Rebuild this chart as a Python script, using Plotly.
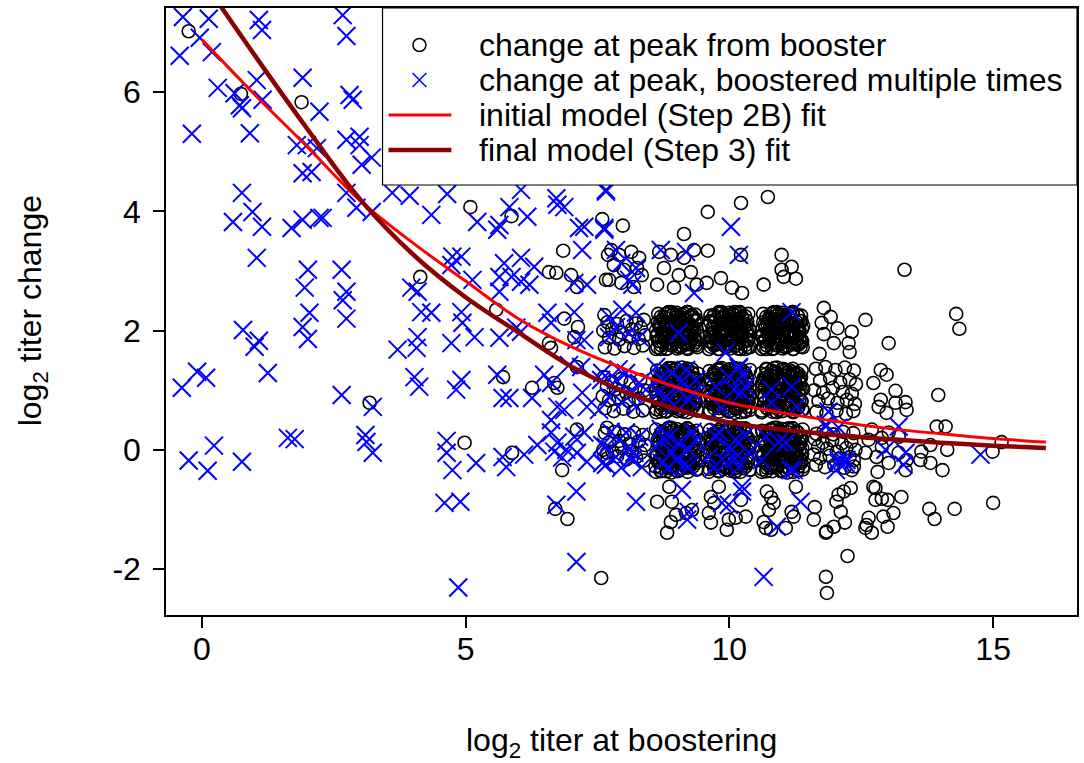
import plotly.graph_objects as go

# ---------------- data ----------------
x_ticks = [0, 5, 10, 15]
y_ticks = [-2, 0, 2, 4, 6]

legend_labels = [
    "change at peak from booster",
    "change at peak, boostered multiple times",
    "initial model (Step 2B) fit",
    "final model (Step 3) fit",
]

# single booster: sparse points
booster_sparse = [
    (-0.25, 7.02), (0.74, 5.97), (1.89, 5.83), (3.18, 0.79),
    (5.09, 4.07), (5.87, 3.92), (7.59, 3.87), (6.85, 3.34), (7.70, 3.27), (4.14, 2.90),
    (6.58, 2.98), (6.72, 2.97), (7.00, 2.93), (7.11, 2.73), (7.66, 2.85), (5.58, 2.35),
    (6.87, 2.20), (7.13, 2.06), (7.06, 1.89), (6.58, 1.79), (6.62, 1.71), (5.71, 1.22),
    (6.26, 1.04), (6.68, 1.12), (6.74, 1.04), (7.11, 1.39), (7.63, 2.26),
    (4.98, 0.12), (5.88, -0.05), (7.11, 0.34), (7.68, 0.37), (7.68, -0.05), (6.83, -0.34),
    (6.70, -0.99), (6.93, -1.16), (7.57, -2.15),
    (10.73, 4.24), (10.22, 4.14), (9.59, 3.99), (7.98, 3.76), (9.14, 3.62), (9.59, 3.34),
    (10.22, 3.27), (10.99, 3.27), (10.99, 3.02), (11.18, 3.07), (11.03, 2.90), (10.65, 2.77),
    (9.84, 2.88), (9.57, 2.80), (10.05, 2.72), (10.24, 2.63),
    (7.76, 3.35), (7.91, 3.27), (8.14, 3.32), (8.29, 3.22), (7.81, 3.10), (8.00, 3.02),
    (8.25, 3.05), (7.72, 2.85), (7.95, 2.80), (8.19, 2.73), (8.34, 2.93),
    (8.67, 3.32), (8.89, 3.27), (9.14, 3.22), (9.33, 3.35), (8.76, 3.05), (9.04, 2.93),
    (9.27, 2.98), (8.63, 2.77), (8.95, 2.72), (9.38, 2.77),
    (11.26, 2.87), (13.32, 3.02), (14.30, 2.28), (14.36, 2.03), (12.58, 2.18), (11.79, 2.38),
    (11.92, 2.23), (11.75, 2.13), (12.05, 2.04), (11.79, 1.94), (12.32, 1.98), (11.98, 1.79),
    (12.26, 1.79), (11.71, 1.61), (12.28, 1.64), (13.02, 1.79), (12.87, 1.34), (12.98, 1.26),
    (12.73, 1.12), (13.15, 0.99), (12.87, 0.84), (13.34, 0.80), (13.15, 0.79), (12.83, 0.72),
    (13.36, 0.67), (12.98, 0.62), (13.96, 0.92), (13.93, 0.39), (14.10, 0.39),
    (15.16, 0.13), (14.99, -0.03), (14.13, 0.00), (13.81, 0.08), (13.81, -0.22), (14.04, -0.34),
    (13.62, -0.17), (15.00, -0.89), (14.27, -0.99), (13.79, -0.99), (13.89, -1.16),
    (13.26, -0.79), (13.00, -0.84), (12.89, -0.82), (12.77, -0.64), (12.81, -0.37),
    (13.11, -1.06), (12.92, -1.12), (13.00, -1.29), (12.64, -1.14), (12.58, -1.31),
    (12.70, -1.39), (12.19, -1.22), (11.98, -1.29), (11.83, -1.39), (11.60, -1.17),
    (11.62, -0.96), (12.24, -1.78), (11.83, -2.13), (11.85, -2.40), (12.30, -0.64),
    (12.17, -0.70), (12.07, -0.75), (12.03, -0.87), (12.11, -1.04), (11.26, -0.62),
    (11.22, -1.12), (12.79, -0.12), (12.58, -0.05), (13.21, -0.05), (13.02, -0.22),
    (13.34, -0.34), (13.64, -0.03), (13.36, -0.17), (12.32, -0.34), (12.36, -0.17),
    (12.64, 0.17), (12.89, 0.20), (12.70, 0.34), (13.02, 0.29), (13.21, 0.22), (12.89, 0.05),
    (8.63, -0.87), (8.86, -0.62), (8.91, -0.87), (8.99, -1.09), (8.89, -1.21), (8.82, -1.39),
    (9.18, -1.06), (9.29, -1.01), (9.65, -0.79), (9.71, -0.89), (9.61, -1.06), (9.65, -1.22),
    (9.80, -0.62), (9.95, -1.34), (9.99, -1.17), (10.12, -1.14), (10.31, -1.12), (10.22, -0.84),
    (10.71, -0.70), (10.79, -0.80), (10.84, -0.89), (10.75, -1.01), (10.65, -1.21),
    (10.69, -1.31), (10.79, -1.34), (11.07, -1.31), (11.18, -1.04), (11.84, -1.37),
    (12.60, -1.26), (12.73, -0.62), (12.77, -0.84),
]

# single booster: dense clusters (titer 8..12, change 0..2)
booster_t8_x = [7.64, 7.82, 8.01, 8.19, 8.36, 7.72, 7.91, 8.10, 8.28, 8.40, 7.61, 7.78, 7.96, 8.15, 8.32, 7.69, 7.87, 8.05, 8.23, 8.38,
                8.36, 8.18, 7.99, 7.81, 7.64, 8.28, 8.09, 7.90, 7.72, 7.60, 8.39, 8.22, 8.04, 7.85, 7.68, 8.31, 8.13, 7.95, 7.77, 7.62,
                7.64, 7.82, 8.01, 8.19, 8.36, 7.72, 7.91, 8.10, 8.28, 8.40, 7.61, 7.78, 7.96, 8.15, 8.32, 7.69, 7.87, 8.05, 8.23, 8.38]
booster_t8_y = [1.72, 1.70, 1.74, 1.71, 1.75, 1.88, 1.85, 1.90, 1.86, 1.92, 2.00, 2.03, 1.97, 2.02, 2.05, 2.14, 2.11, 2.16, 2.12, 2.18,
                0.66, 0.64, 0.69, 0.65, 0.70, 0.86, 0.82, 0.88, 0.83, 0.90, 1.00, 1.04, 0.96, 1.02, 1.06, 1.17, 1.13, 1.19, 1.14, 1.22,
                0.28, 0.30, 0.26, 0.29, 0.25, 0.12, 0.15, 0.10, 0.14, 0.08, 0.00, -0.03, 0.03, -0.02, -0.05, -0.14, -0.11, -0.16, -0.12, -0.18]

booster_t9_x = [8.64, 8.82, 9.01, 9.19, 9.36, 8.72, 8.91, 9.10, 9.28, 9.40, 8.61, 8.78, 8.96, 9.15, 9.32, 8.69, 8.87, 9.05, 9.23, 9.38,
                8.65, 8.84, 9.03, 9.21, 9.35, 8.75, 9.12, 8.98, 9.30, 8.80,
                8.62, 8.79, 8.95, 9.12, 9.27, 9.39, 8.67, 8.84, 9.02, 9.19, 9.34, 8.60, 8.76, 8.92, 9.08, 9.24, 9.38, 8.69, 8.87, 9.04,
                9.17, 9.31, 8.63, 8.80, 8.98, 9.14, 9.29, 9.40, 8.72, 9.07, 8.89, 9.22, 8.65, 9.33, 9.00, 8.82, 9.15, 9.28, 8.73, 9.10,
                9.38, 9.21, 9.05, 8.88, 8.73, 8.61, 9.33, 9.16, 8.98, 8.81, 8.66, 9.40, 9.24, 9.08, 8.92, 8.76, 8.62, 9.31, 9.13, 8.96,
                8.83, 8.69, 9.37, 9.20, 9.02, 8.86, 8.71, 8.60, 9.28, 8.93, 9.11, 8.78, 9.35, 8.67, 9.00, 9.18, 8.85, 8.72, 9.27, 8.90]
booster_t9_y = [1.72, 1.70, 1.74, 1.71, 1.75, 1.88, 1.85, 1.90, 1.86, 1.92, 2.00, 2.03, 1.97, 2.02, 2.05, 2.14, 2.11, 2.16, 2.12, 2.18,
                2.28, 2.30, 2.26, 2.31, 2.27, 1.80, 1.80, 2.22, 2.22, 2.08,
                0.68, 0.65, 0.70, 0.64, 0.69, 0.66, 0.85, 0.81, 0.88, 0.83, 0.90, 1.02, 1.05, 0.98, 1.04, 1.00, 1.07, 1.18, 1.14, 1.20,
                1.15, 1.21, 1.33, 1.30, 1.36, 1.31, 1.35, 1.28, 0.75, 0.76, 1.25, 1.24, 1.10, 0.78, 1.10, 0.94, 0.95, 1.12, 1.26, 1.38,
                0.32, 0.35, 0.30, 0.36, 0.31, 0.34, 0.15, 0.19, 0.12, 0.17, 0.10, -0.02, -0.05, 0.02, -0.04, 0.00, -0.07, -0.18, -0.14, -0.20,
                -0.15, -0.21, -0.33, -0.30, -0.36, -0.31, -0.35, -0.28, 0.25, 0.24, -0.25, -0.24, -0.10, 0.22, -0.10, 0.06, 0.05, -0.12, -0.26, -0.38]

booster_t10_x = [10.36, 10.18, 9.99, 9.81, 9.64, 10.28, 10.09, 9.90, 9.72, 9.60, 10.39, 10.22, 10.04, 9.85, 9.68, 10.31, 10.13, 9.95, 9.77, 9.62,
                 10.35, 10.16, 9.97, 9.79, 9.65, 10.25, 9.88, 10.02, 9.70, 10.20,
                 9.62, 9.79, 9.95, 10.12, 10.27, 10.39, 9.67, 9.84, 10.02, 10.19, 10.34, 9.60, 9.76, 9.92, 10.08, 10.24, 10.38, 9.69, 9.87, 10.04,
                 10.17, 10.31, 9.63, 9.80, 9.98, 10.14, 10.29, 10.40, 9.72, 10.07, 9.89, 10.22, 9.65, 10.33, 10.00, 9.82, 10.15, 10.28, 9.73, 10.10,
                 9.62, 9.79, 9.95, 10.12, 10.27, 10.39, 9.67, 9.84, 10.02, 10.19, 10.34, 9.60, 9.76, 9.92, 10.08, 10.24, 10.38, 9.69, 9.87, 10.04,
                 10.17, 10.31, 9.63, 9.80, 9.98, 10.14, 10.29, 10.40, 9.72, 10.07, 9.89, 10.22, 9.65, 10.33, 10.00, 9.82, 10.15, 10.28, 9.73, 10.10]
booster_t10_y = [2.28, 2.30, 2.26, 2.29, 2.25, 2.12, 2.15, 2.10, 2.14, 2.08, 2.00, 1.97, 2.03, 1.98, 1.95, 1.86, 1.89, 1.84, 1.88, 1.82,
                 1.72, 1.70, 1.74, 1.69, 1.73, 2.20, 2.20, 1.78, 1.78, 1.92,
                 1.32, 1.35, 1.30, 1.36, 1.31, 1.34, 1.15, 1.19, 1.12, 1.17, 1.10, 0.98, 0.95, 1.02, 0.96, 1.00, 0.93, 0.82, 0.86, 0.80,
                 0.85, 0.79, 0.67, 0.70, 0.64, 0.69, 0.65, 0.72, 1.25, 1.24, 0.75, 0.76, 0.90, 1.22, 0.90, 1.06, 1.05, 0.88, 0.74, 0.62,
                 -0.32, -0.35, -0.30, -0.36, -0.31, -0.34, -0.15, -0.19, -0.12, -0.17, -0.10, 0.02, 0.05, -0.02, 0.04, 0.00, 0.07, 0.18, 0.14, 0.20,
                 0.15, 0.21, 0.33, 0.30, 0.36, 0.31, 0.35, 0.28, -0.25, -0.24, 0.25, 0.24, 0.10, -0.22, 0.10, -0.06, -0.05, 0.12, 0.26, 0.38]

booster_t11_x = [10.64, 10.82, 11.01, 11.19, 11.36, 10.72, 10.91, 11.10, 11.28, 11.40, 10.61, 10.78, 10.96, 11.15, 11.32, 10.69, 10.87, 11.05, 11.23, 11.38,
                 10.65, 10.84, 11.03, 11.21, 11.35, 10.75, 11.12, 10.98, 11.30, 10.80,
                 11.38, 11.21, 11.05, 10.88, 10.73, 10.61, 11.33, 11.16, 10.98, 10.81, 10.66, 11.40, 11.24, 11.08, 10.92, 10.76, 10.62, 11.31, 11.13, 10.96,
                 10.83, 10.69, 11.37, 11.20, 11.02, 10.86, 10.71, 10.60, 11.28, 10.93, 11.11, 10.78, 11.35, 10.67, 11.00, 11.18, 10.85, 10.72, 11.27, 10.90,
                 10.62, 10.79, 10.95, 11.12, 11.27, 11.39, 10.67, 10.84, 11.02, 11.19, 11.34, 10.60, 10.76, 10.92, 11.08, 11.24, 11.38, 10.69, 10.87, 11.04,
                 11.17, 11.31, 10.63, 10.80, 10.98, 11.14, 11.29, 11.40, 10.72, 11.07, 10.89, 11.22, 10.65, 11.33, 11.00, 10.82, 11.15, 11.28, 10.73, 11.10]
booster_t11_y = [2.28, 2.30, 2.26, 2.29, 2.25, 2.12, 2.15, 2.10, 2.14, 2.08, 2.00, 1.97, 2.03, 1.98, 1.95, 1.86, 1.89, 1.84, 1.88, 1.82,
                 1.72, 1.70, 1.74, 1.69, 1.73, 2.20, 2.20, 1.78, 1.78, 1.92,
                 0.68, 0.65, 0.70, 0.64, 0.69, 0.66, 0.85, 0.81, 0.88, 0.83, 0.90, 1.02, 1.05, 0.98, 1.04, 1.00, 1.07, 1.18, 1.14, 1.20,
                 1.15, 1.21, 1.33, 1.30, 1.36, 1.31, 1.35, 1.28, 0.75, 0.76, 1.25, 1.24, 1.10, 0.78, 1.10, 0.94, 0.95, 1.12, 1.26, 1.38,
                 0.32, 0.35, 0.30, 0.36, 0.31, 0.34, 0.15, 0.19, 0.12, 0.17, 0.10, -0.02, -0.05, 0.02, -0.04, 0.00, -0.07, -0.18, -0.14, -0.20,
                 -0.15, -0.21, -0.33, -0.30, -0.36, -0.31, -0.35, -0.28, 0.25, 0.24, -0.25, -0.24, -0.10, 0.22, -0.10, 0.06, 0.05, -0.12, -0.26, -0.38]

booster_t12_x = [11.64, 11.82, 12.01, 12.19, 12.36, 11.72, 11.91, 12.10, 12.28, 12.40, 11.61, 11.78, 11.96, 12.15, 12.32, 11.69, 11.87, 12.05, 12.23, 12.38,
                 11.65, 11.84, 12.03, 12.21, 12.35,
                 12.36, 12.18, 11.99, 11.81, 11.64, 12.28, 12.09, 11.90, 11.72, 11.60, 12.39, 12.22, 12.04, 11.85, 11.68, 12.31, 12.13, 11.95, 11.77, 11.62,
                 12.35, 12.16, 11.97, 11.79, 11.65]
booster_t12_y = [1.36, 1.39, 1.34, 1.38, 1.33, 1.16, 1.20, 1.13, 1.18, 1.10, 1.00, 0.96, 1.04, 0.97, 0.94, 0.82, 0.86, 0.79, 0.84, 0.77,
                 0.64, 0.61, 0.66, 0.60, 0.65,
                 -0.28, -0.30, -0.26, -0.29, -0.25, -0.12, -0.15, -0.10, -0.14, -0.08, 0.00, 0.03, -0.03, 0.02, 0.05, 0.14, 0.11, 0.16, 0.12, 0.18,
                 0.28, 0.30, 0.26, 0.31, 0.27]

# extra points that make the titer 9-11 blocks look solid (first fill set)
booster_fill_t9_x = [8.70, 8.88, 9.06, 9.23, 9.36, 8.65, 8.83, 9.01, 9.18, 9.33, 8.74, 8.93, 9.11, 9.27, 8.62,
                     8.79, 8.97, 9.16, 9.31, 8.67, 8.86, 9.04, 9.21, 9.37, 8.76, 8.94, 9.13, 9.29, 8.90, 9.20]
booster_fill_t10_x = [10.30, 10.12, 9.94, 9.77, 9.64, 10.35, 10.17, 9.99, 9.82, 9.67, 10.26, 10.07, 9.89, 9.73, 10.38,
                      10.21, 10.03, 9.84, 9.69, 10.33, 10.14, 9.96, 9.79, 9.63, 10.24, 10.06, 9.87, 9.71, 10.10, 9.80]
booster_fill_t11_x = [10.70, 10.88, 11.06, 11.23, 11.36, 10.65, 10.83, 11.01, 11.18, 11.33, 10.74, 10.93, 11.11, 11.27, 10.62,
                      10.79, 10.97, 11.16, 11.31, 10.67, 10.86, 11.04, 11.21, 11.37, 10.76, 10.94, 11.13, 11.29, 10.90, 11.20]
booster_fill_r2_y = [1.69, 1.76, 1.72, 1.77, 1.81, 1.83, 1.80, 1.85, 1.79, 1.88, 1.94, 1.91, 1.97, 1.92, 1.90,
                     2.03, 2.07, 2.00, 2.05, 2.10, 2.14, 2.19, 2.11, 2.16, 2.23, 2.28, 2.21, 2.26, 2.31, 2.31]
booster_fill_r1a_y = [0.64, 0.72, 0.67, 0.73, 0.78, 0.80, 0.76, 0.82, 0.75, 0.86, 0.93, 0.90, 0.96, 0.91, 0.88,
                      1.03, 1.08, 1.00, 1.06, 1.12, 1.17, 1.22, 1.13, 1.19, 1.27, 1.33, 1.25, 1.30, 1.37, 1.36]
booster_fill_r1b_y = [1.36, 1.28, 1.33, 1.27, 1.22, 1.20, 1.24, 1.18, 1.25, 1.14, 1.07, 1.10, 1.04, 1.09, 1.12,
                      0.97, 0.92, 1.00, 0.94, 0.88, 0.83, 0.78, 0.87, 0.81, 0.73, 0.67, 0.75, 0.70, 0.63, 0.64]
booster_fill_r0a_y = [-0.36, -0.28, -0.33, -0.27, -0.22, -0.20, -0.24, -0.18, -0.25, -0.14, -0.07, -0.10, -0.04, -0.09, -0.12,
                      0.03, 0.08, 0.00, 0.06, 0.12, 0.17, 0.22, 0.13, 0.19, 0.27, 0.33, 0.25, 0.30, 0.37, 0.36]
booster_fill_r0b_y = [0.36, 0.28, 0.33, 0.27, 0.22, 0.20, 0.24, 0.18, 0.25, 0.14, 0.07, 0.10, 0.04, 0.09, 0.12,
                      -0.03, -0.08, 0.00, -0.06, -0.12, -0.17, -0.22, -0.13, -0.19, -0.27, -0.33, -0.25, -0.30, -0.37, -0.36]

# second fill set for the solid-looking blocks
booster_dense_t9_x = [8.61, 8.71, 8.81, 8.91, 9.01, 9.11, 9.21, 9.31, 9.39, 8.66, 8.76, 8.86, 8.96, 9.06, 9.16, 9.26, 9.36,
                      8.63, 8.73, 8.83, 8.93, 9.03, 9.13, 9.23, 9.33, 8.68, 8.78, 8.88, 8.98, 9.08, 9.18, 9.28, 9.38,
                      8.64, 8.74, 8.84, 8.94, 9.04, 9.14, 9.24, 9.34, 8.70, 8.80, 8.90, 9.00, 9.10, 9.20, 9.30, 8.85, 9.15]
booster_dense_t10_x = [9.61, 9.71, 9.81, 9.91, 10.01, 10.11, 10.21, 10.31, 10.39, 9.66, 9.76, 9.86, 9.96, 10.06, 10.16, 10.26, 10.36,
                       9.63, 9.73, 9.83, 9.93, 10.03, 10.13, 10.23, 10.33, 9.68, 9.78, 9.88, 9.98, 10.08, 10.18, 10.28, 10.38,
                       9.64, 9.74, 9.84, 9.94, 10.04, 10.14, 10.24, 10.34, 9.70, 9.80, 9.90, 10.00, 10.10, 10.20, 10.30, 9.85, 10.15]
booster_dense_t11_x = [10.61, 10.71, 10.81, 10.91, 11.01, 11.11, 11.21, 11.31, 11.39, 10.66, 10.76, 10.86, 10.96, 11.06, 11.16, 11.26, 11.36,
                       10.63, 10.73, 10.83, 10.93, 11.03, 11.13, 11.23, 11.33, 10.68, 10.78, 10.88, 10.98, 11.08, 11.18, 11.28, 11.38,
                       10.64, 10.74, 10.84, 10.94, 11.04, 11.14, 11.24, 11.34, 10.70, 10.80, 10.90, 11.00, 11.10, 11.20, 11.30, 10.85, 11.15]
booster_dense_r2_y = [1.69, 1.75, 1.69, 1.75, 1.70, 1.74, 1.69, 1.76, 1.72, 1.82, 1.86, 1.80, 1.86, 1.83, 1.87, 1.81, 1.85,
                      1.93, 1.98, 1.95, 1.99, 1.94, 1.97, 1.96, 2.00, 2.05, 2.09, 2.03, 2.08, 2.04, 2.09, 2.06, 2.03,
                      2.14, 2.18, 2.13, 2.17, 2.14, 2.19, 2.12, 2.16, 2.23, 2.28, 2.25, 2.30, 2.26, 2.31, 2.24, 2.31, 2.28]
booster_dense_r1_y = [0.63, 0.70, 0.64, 0.71, 0.65, 0.69, 0.63, 0.72, 0.67, 0.79, 0.84, 0.77, 0.83, 0.80, 0.85, 0.78, 0.82,
                      0.92, 0.98, 0.94, 0.99, 0.93, 0.97, 0.95, 1.00, 1.06, 1.10, 1.04, 1.09, 1.05, 1.11, 1.07, 1.03,
                      1.16, 1.21, 1.15, 1.20, 1.17, 1.22, 1.14, 1.19, 1.27, 1.33, 1.29, 1.35, 1.30, 1.36, 1.28, 1.37, 1.33]
booster_dense_r0_y = [-0.37, -0.30, -0.36, -0.29, -0.35, -0.31, -0.37, -0.28, -0.33, -0.21, -0.16, -0.23, -0.17, -0.20, -0.15, -0.22, -0.18,
                      -0.08, -0.02, -0.06, -0.01, -0.07, -0.03, -0.05, 0.00, 0.06, 0.10, 0.04, 0.09, 0.05, 0.11, 0.07, 0.03,
                      0.16, 0.21, 0.15, 0.20, 0.17, 0.22, 0.14, 0.19, 0.27, 0.33, 0.29, 0.35, 0.30, 0.36, 0.28, 0.37, 0.33]

# boostered multiple times
multi_points = [
    (-0.36, 7.26), (0.13, 7.23), (1.08, 7.21), (1.14, 7.04), (2.67, 7.29), (2.74, 6.94),
    (-0.42, 6.61), (0.19, 6.67), (-0.04, 6.91), (1.91, 6.24), (1.04, 6.20), (0.30, 6.07),
    (0.62, 5.98), (0.72, 5.78), (0.76, 5.73), (1.15, 5.87), (2.80, 5.95), (2.86, 5.87),
    (2.23, 5.67), (-0.19, 5.30), (0.91, 5.31), (1.80, 5.11), (1.99, 5.11), (2.18, 5.06),
    (2.74, 5.20), (2.99, 5.25), (2.99, 5.11), (3.22, 4.90), (3.03, 4.78), (1.91, 4.64),
    (2.08, 4.66), (0.76, 4.31), (0.96, 3.99), (0.59, 3.82), (1.14, 3.74), (1.70, 3.72),
    (1.91, 3.86), (2.23, 3.89), (2.29, 3.89), (2.74, 4.31), (2.93, 4.06), (3.22, 3.99),
    (1.04, 3.22), (2.01, 3.02), (2.65, 3.02), (1.95, 2.72), (2.74, 2.65),
    (2.67, 2.51), (2.04, 2.30), (2.74, 2.20), (1.91, 2.06), (2.01, 1.86), (0.78, 2.01),
    (1.08, 1.83), (1.00, 1.73), (1.25, 1.29), (-0.09, 1.31), (0.08, 1.21), (-0.38, 1.04),
    (2.65, 0.92), (3.24, 0.72), (1.63, 0.20), (1.76, 0.18), (3.10, 0.25), (3.12, 0.13),
    (3.24, -0.05), (0.23, 0.07), (-0.25, -0.18), (0.11, -0.35), (0.76, -0.20),
    (3.61, 4.31), (3.94, 4.26), (4.65, 4.29), (6.05, 4.36), (6.72, 4.22), (6.74, 4.11),
    (6.87, 4.07), (7.66, 4.33), (4.35, 3.94), (5.22, 3.82), (5.64, 3.77), (5.60, 3.69),
    (5.83, 4.07), (6.17, 3.91), (7.15, 3.72), (7.25, 3.74), (7.63, 3.69), (7.21, 3.35),
    (4.75, 3.24), (4.92, 3.24), (4.73, 3.10), (6.05, 3.22), (5.73, 3.13), (6.30, 3.07),
    (5.64, 2.90), (5.87, 2.90), (6.05, 2.82), (5.13, 2.85), (6.21, 2.77), (7.06, 2.80),
    (7.30, 2.77), (3.97, 2.72), (4.09, 2.65), (5.64, 2.65), (4.16, 2.31), (4.35, 2.30),
    (4.92, 2.31), (6.55, 2.30), (7.06, 2.31), (4.94, 2.13), (6.62, 2.13), (5.96, 2.05),
    (6.05, 1.98), (5.17, 1.89), (5.64, 1.88), (4.09, 1.89), (4.07, 1.71), (3.71, 1.68),
    (4.73, 1.79), (7.10, 1.84), (7.25, 1.84), (4.03, 1.22), (4.12, 1.06), (4.92, 1.17),
    (4.82, 1.01), (5.60, 1.26), (5.70, 0.87), (5.83, 0.87), (6.26, 0.87), (6.49, 1.26),
    (6.62, 1.12), (6.96, 1.42), (7.19, 1.39), (6.74, 0.72), (6.87, 0.67), (7.21, 0.96),
    (7.30, 0.72), (7.57, 1.17), (6.62, 0.50),
    (4.64, 0.15), (4.64, -0.05), (4.75, -0.34), (5.20, -0.22), (5.70, -0.12), (5.77, -0.29),
    (6.11, -0.08), (6.36, 0.08), (6.62, 0.29), (6.74, 0.12), (6.91, 0.00), (7.06, 0.22),
    (7.25, 0.29), (7.11, -0.05), (7.30, -0.20), (6.83, -0.13), (7.59, 0.08), (7.66, -0.25),
    (6.68, -0.03), (7.10, -0.70), (4.60, -0.89), (4.90, -0.87), (6.72, -0.92), (7.10, -1.88),
    (4.86, -2.31),
    (7.66, 4.36), (7.63, 3.72), (10.03, 3.74), (10.18, 3.27), (8.70, 3.35), (9.18, 3.32),
    (7.85, 3.35), (7.95, 3.13), (8.23, 3.05), (8.10, 2.85), (8.16, 2.77), (9.33, 2.63),
    (11.18, 2.31),
    (7.72, 2.23), (7.97, 2.35), (8.23, 2.30), (7.85, 2.06), (8.10, 1.96), (8.29, 1.89),
    (7.72, 1.89), (9.04, 1.96), (9.93, 1.63), (10.18, 1.39),
    (7.59, 1.29), (7.85, 1.17), (8.04, 1.29), (8.29, 1.12), (7.72, 0.89), (7.97, 0.79),
    (8.23, 0.72), (7.53, 0.67), (8.42, 1.01), (7.90, 1.35), (8.15, 0.95),
    (8.61, 1.39), (8.91, 1.29), (9.18, 1.34), (9.37, 1.17), (8.80, 0.89), (9.04, 1.01),
    (9.23, 0.84), (8.70, 1.20), (9.10, 1.15), (8.95, 0.75), (9.30, 0.95), (8.65, 0.95),
    (9.74, 1.06), (9.99, 1.22), (10.18, 1.37), (10.31, 1.06), (10.24, 0.96), (9.85, 0.70), (10.25, 1.25),
    (10.09, 1.01), (10.80, 1.01), (11.18, 1.06), (10.80, 0.79), (11.28, 0.72), (11.88, 0.64),
    (11.83, 0.42),
    (7.66, 0.05), (7.91, 0.17), (8.10, 0.00), (8.29, 0.22), (7.85, -0.12), (8.16, -0.17),
    (7.59, -0.22), (8.34, -0.29), (8.04, 0.29), (7.75, 0.30), (8.20, -0.05), (7.95, -0.30),
    (8.61, 0.05), (8.86, 0.22), (9.04, 0.12), (9.23, 0.00), (9.37, 0.17), (8.72, -0.22),
    (8.99, -0.17), (9.23, -0.29), (8.91, -0.05), (8.75, 0.20), (9.15, -0.25), (8.85, -0.30),
    (9.30, 0.30), (8.70, 0.35),
    (9.74, 0.22), (9.99, 0.05), (9.61, -0.12), (9.93, -0.22), (9.80, 0.30), (10.10, -0.15),
    (9.70, -0.30), (10.30, 0.25),
    (10.12, 0.17), (10.37, -0.05), (10.69, 0.22), (10.94, 0.13), (11.07, 0.12), (10.61, -0.17),
    (11.16, -0.34), (10.18, -0.29), (10.05, 0.00),
    (12.07, -0.17), (12.20, -0.22), (12.02, -0.34), (10.24, -0.62),
    (8.23, -0.87), (9.10, -0.67), (9.23, -1.04), (9.20, -1.17), (9.86, -0.89), (9.99, -0.92),
    (10.24, -0.70), (11.35, -0.87), (10.90, -1.29), (10.65, -2.13),
    (14.76, -0.08), (13.21, 0.39), (12.96, 0.00), (13.34, -0.05), (13.30, -0.25),
    (12.07, -0.22), (12.22, -0.17), (11.22, -0.34), (11.83, 0.39), (12.07, 0.37),
]

# model fits read at integer titers
initial_fit_x = [0, 1, 2, 3, 4, 5, 6, 7, 8, 9, 10, 11, 12, 13, 14, 15, 16]
initial_fit_y = [6.88, 5.96, 5.08, 4.18, 3.47, 2.83, 2.20, 1.73, 1.36, 1.05, 0.79, 0.62, 0.48, 0.36, 0.27, 0.19, 0.13]
final_fit_x = [0, 1, 2, 3, 4, 5, 6, 7, 8, 9, 10, 11, 12, 13, 14, 15, 16]
final_fit_y = [7.90, 6.62, 5.38, 4.20, 3.28, 2.56, 1.97, 1.40, 0.98, 0.68, 0.46, 0.34, 0.25, 0.18, 0.12, 0.07, 0.03]

# ---------------- assemble ----------------
booster_x = ([p[0] for p in booster_sparse] + booster_t8_x + booster_t9_x + booster_t10_x + booster_t11_x + booster_t12_x
             + booster_fill_t9_x * 3 + booster_fill_t10_x * 3 + booster_fill_t11_x * 3
             + booster_dense_t9_x * 3 + booster_dense_t10_x * 3 + booster_dense_t11_x * 3)
booster_y = ([p[1] for p in booster_sparse] + booster_t8_y + booster_t9_y + booster_t10_y + booster_t11_y + booster_t12_y
             + booster_fill_r2_y + booster_fill_r1a_y + booster_fill_r0a_y
             + booster_fill_r2_y + booster_fill_r1a_y + booster_fill_r0b_y
             + booster_fill_r2_y + booster_fill_r1b_y + booster_fill_r0a_y
             + booster_dense_r2_y + booster_dense_r1_y + booster_dense_r0_y
             + booster_dense_r2_y + booster_dense_r1_y + booster_dense_r0_y
             + booster_dense_r2_y + booster_dense_r1_y + booster_dense_r0_y)
multi_x = [p[0] for p in multi_points]
multi_y = [p[1] for p in multi_points]

FONT = "Liberation Sans, Arial, sans-serif"
FS = 32
W, H = 1084, 763
ML, MR, MT, MB = 166, 5, 8, 148
PW, PH = W - ML - MR, H - MT - MB


def px(xp):
    return (xp - ML) / PW


def py(yp):
    return (H - MB - yp) / PH


fig = go.Figure()
fig.add_trace(go.Scatter(
    x=booster_x, y=booster_y, mode="markers", name=legend_labels[0], showlegend=False,
    marker=dict(symbol="circle-open", size=13, color="black", line=dict(width=1.6)),
))
fig.add_trace(go.Scatter(
    x=multi_x, y=multi_y, mode="markers", name=legend_labels[1], showlegend=False,
    marker=dict(symbol="x-thin-open", size=18, color="#0000FF", line=dict(width=2, color="#0000FF")),
))
fig.add_trace(go.Scatter(
    x=initial_fit_x, y=initial_fit_y, mode="lines", name=legend_labels[2], showlegend=False,
    line=dict(color="#FF0000", width=3, shape="spline"),
))
fig.add_trace(go.Scatter(
    x=final_fit_x, y=final_fit_y, mode="lines", name=legend_labels[3], showlegend=False,
    line=dict(color="#8B0000", width=4.5, shape="spline"),
))

# legend box drawn manually (R style)
shapes = [
    dict(type="rect", xref="paper", yref="paper", x0=px(383), x1=px(1079), y0=py(185), y1=py(8),
         fillcolor="white", line=dict(color="black", width=1.2), layer="above"),
    dict(type="circle", xref="paper", yref="paper", x0=px(413.5), x1=px(426.5), y0=py(51.5), y1=py(38.5),
         line=dict(color="black", width=1.5), layer="above"),
    dict(type="line", xref="paper", yref="paper", x0=px(413), x1=px(427), y0=py(73), y1=py(87),
         line=dict(color="#0000FF", width=1.5), layer="above"),
    dict(type="line", xref="paper", yref="paper", x0=px(413), x1=px(427), y0=py(87), y1=py(73),
         line=dict(color="#0000FF", width=1.5), layer="above"),
    dict(type="line", xref="paper", yref="paper", x0=px(389), x1=px(452), y0=py(115), y1=py(115),
         line=dict(color="#FF0000", width=3), layer="above"),
    dict(type="line", xref="paper", yref="paper", x0=px(389), x1=px(452), y0=py(150), y1=py(150),
         line=dict(color="#8B0000", width=4.5), layer="above"),
]
annotations = []
for lab, yy in zip(legend_labels, [45, 80, 115, 150]):
    annotations.append(dict(xref="paper", yref="paper", x=px(478), y=py(yy), text=lab, showarrow=False,
                            xanchor="left", yanchor="middle", font=dict(family=FONT, size=FS, color="black")))
annotations.append(dict(xref="paper", yref="paper", x=px(622), y=py(742), text="log<sub>2</sub> titer at boostering",
                        showarrow=False, xanchor="center", yanchor="middle",
                        font=dict(family=FONT, size=FS, color="black")))
annotations.append(dict(xref="paper", yref="paper", x=px(32), y=py(311), text="log<sub>2</sub> titer change",
                        showarrow=False, xanchor="center", yanchor="middle", textangle=-90,
                        font=dict(family=FONT, size=FS, color="black")))

fig.update_layout(
    width=W, height=H,
    margin=dict(l=ML, r=MR, t=MT, b=MB, pad=0),
    paper_bgcolor="white", plot_bgcolor="white",
    showlegend=False,
    font=dict(family=FONT, size=FS, color="black"),
    shapes=shapes, annotations=annotations,
    xaxis=dict(range=[-0.68, 16.59], tickvals=x_ticks, ticktext=[str(v) for v in x_ticks],
               showgrid=False, zeroline=False, showline=True, mirror=True, linecolor="black", linewidth=1.5,
               ticks="outside", ticklen=11, tickwidth=1.5, tickcolor="black", ticklabelstandoff=-6,
               tickfont=dict(family=FONT, size=FS, color="black")),
    yaxis=dict(range=[-2.77, 7.41], tickvals=y_ticks, ticktext=[str(v) for v in y_ticks],
               showgrid=False, zeroline=False, showline=True, mirror=True, linecolor="black", linewidth=1.5,
               ticks="outside", ticklen=11, tickwidth=1.5, tickcolor="black", ticklabelstandoff=6,
               tickfont=dict(family=FONT, size=FS, color="black")),
)

fig.write_html("out.html", config={"displayModeBar": False},
               post_script="document.body.style.margin='0';document.body.style.padding='0';")
